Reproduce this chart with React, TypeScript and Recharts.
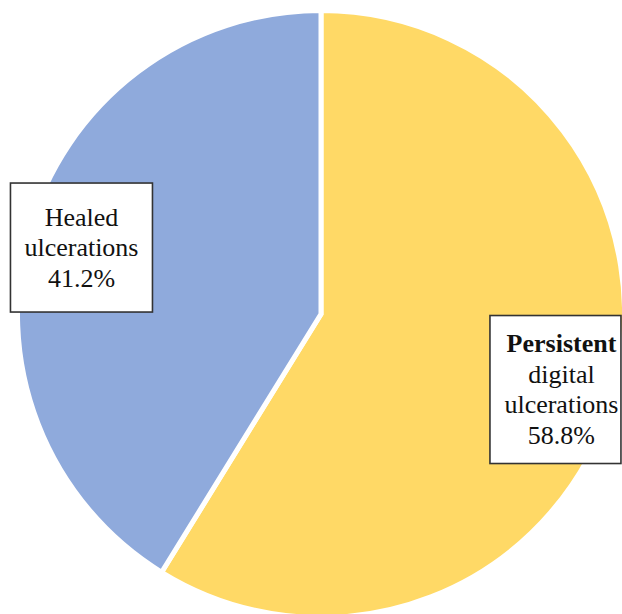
import React from "react";
import { PieChart, Pie, Cell } from "recharts";

const categories = ["Persistent digital ulcerations", "Healed ulcerations"];
const values = [58.8, 41.2];
const labelLines: string[][] = [
  ["Persistent", "digital", "ulcerations", "58.8%"],
  ["Healed", "ulcerations", "41.2%"],
];
const boldFirstLine = [true, false];

const COLORS = ["#FFD966", "#8FAADC"];

// label box styling / layout (relative to slice mid-angle)
const LABEL_STYLE = [
  { rFactor: 0.803, dy: 9, w: 131, h: 148, textDx: 6 },
  { rFactor: 0.8204, dy: 1.5, w: 142, h: 129, textDx: 0 },
];

const data = categories.map((name, i) => ({ name, value: values[i] }));

const RAD = Math.PI / 180;
const FONT = "Liberation Serif, DejaVu Serif, serif";
const FONT_SIZE = 26;
const LINE_H = 30.5;

const renderLabel = (props: any) => {
  const { cx, cy, midAngle, outerRadius, index } = props;
  const st = LABEL_STYLE[index];
  const r = outerRadius * st.rFactor;
  const bx = cx + r * Math.cos(-midAngle * RAD);
  const by = cy + r * Math.sin(-midAngle * RAD) + st.dy;
  const lines = labelLines[index];
  const n = lines.length;
  return (
    <g key={`lbl-${index}`}>
      <rect
        x={bx - st.w / 2}
        y={by - st.h / 2}
        width={st.w}
        height={st.h}
        fill="#ffffff"
        stroke="#333333"
        strokeWidth={1.6}
      />
      {lines.map((t, i) => (
        <text
          key={i}
          x={bx + st.textDx}
          y={by + (i - (n - 1) / 2) * LINE_H + 8.5}
          textAnchor="middle"
          style={{
            fontFamily: FONT,
            fontSize: FONT_SIZE,
            fontWeight: i === 0 && boldFirstLine[index] ? 700 : 400,
          }}
          fill="#111111"
        >
          {t}
        </text>
      ))}
    </g>
  );
};

export default function App() {
  return (
    <div style={{ position: "absolute", left: 0, top: 0, width: 622, height: 614, background: "#ffffff" }}>
      <PieChart width={622} height={614} margin={{ top: 0, right: 0, bottom: 0, left: 0 }}>
        <Pie
          data={data}
          dataKey="value"
          nameKey="name"
          cx={321}
          cy={314}
          outerRadius={303.5}
          startAngle={90}
          endAngle={-270}
          stroke="#ffffff"
          strokeWidth={5}
          label={renderLabel}
          labelLine={false}
          isAnimationActive={false}
        >
          {data.map((d, i) => (
            <Cell key={d.name} fill={COLORS[i]} />
          ))}
        </Pie>
      </PieChart>
    </div>
  );
}
